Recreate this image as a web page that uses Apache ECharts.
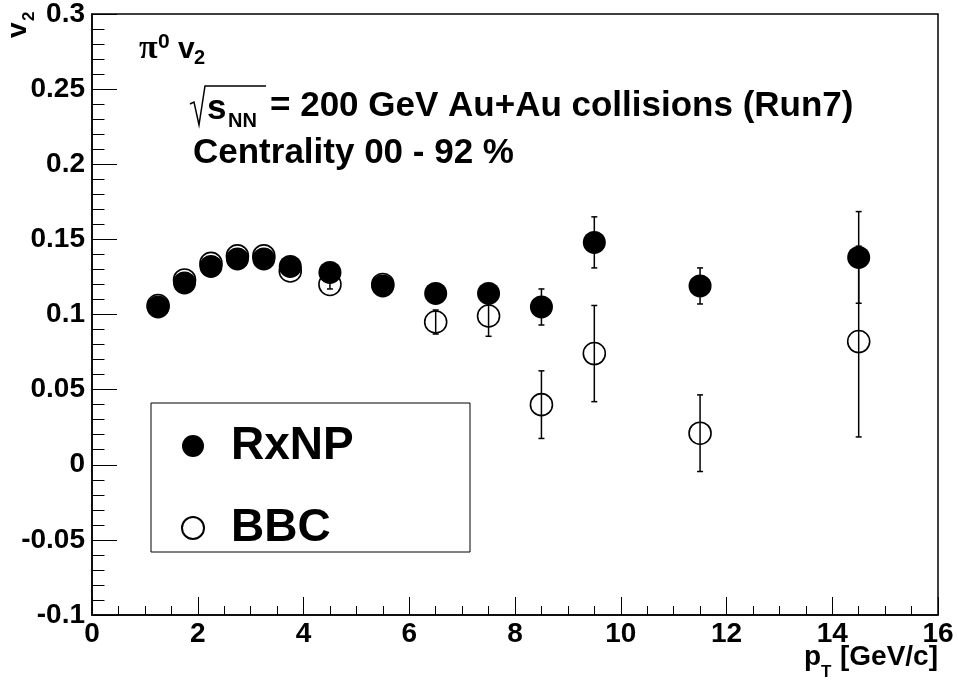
<!DOCTYPE html>
<html>
<head>
<meta charset="utf-8">
<script src="https://cdn.jsdelivr.net/npm/echarts@6/dist/echarts.min.js"></script>
<style>
  html, body { margin: 0; padding: 0; background: #fff; }
  #chart { width: 958px; height: 682px; }
</style>
</head>
<body>
<div id="chart"></div>
<script>
// ---- data ----
var pt      = [1.25, 1.75, 2.25, 2.75, 3.25, 3.75, 4.5, 5.5, 6.5, 7.5, 8.5, 9.5, 11.5, 14.5];
var rxnp    = [0.105, 0.121, 0.132, 0.137, 0.137, 0.132, 0.128, 0.119, 0.114, 0.114, 0.105, 0.148, 0.119, 0.138];
var rxnpErr = [0.002, 0.002, 0.002, 0.002, 0.002, 0.003, 0.003, 0.003, 0.004, 0.005, 0.012, 0.017, 0.012, 0.0305];
var bbc     = [0.106, 0.123, 0.134, 0.139, 0.139, 0.129, 0.120, 0.120, 0.095, 0.099, 0.040, 0.074, 0.021, 0.082];
var bbcErr  = [0.002, 0.002, 0.002, 0.002, 0.003, 0.003, 0.003, 0.004, 0.008, 0.0135, 0.0225, 0.032, 0.0255, 0.0635];
var xTickLabels = ['0', '2', '4', '6', '8', '10', '12', '14', '16'];
var yTickLabels = ['-0.1', '-0.05', '0', '0.05', '0.1', '0.15', '0.2', '0.25', '0.3'];
var seriesNames = ['RxNP', 'BBC'];

var FONT = 'Liberation Sans, Arial, Helvetica, sans-serif';
var X_MIN = 0, X_MAX = 16, X_INT = 2;
var Y_MIN = -0.1, Y_MAX = 0.3, Y_INT = 0.05;

function zip3(a, b, c) { return a.map(function (v, i) { return [v, b[i], c[i]]; }); }

function errRender(params, api) {
  var x = api.value(0), y = api.value(1), e = api.value(2);
  var top = api.coord([x, y + e]);
  var bot = api.coord([x, y - e]);
  var cap = 3;
  var st = { stroke: '#000', lineWidth: 1.5 };
  return {
    type: 'group',
    children: [
      { type: 'line', shape: { x1: top[0], y1: top[1], x2: bot[0], y2: bot[1] }, style: st },
      { type: 'line', shape: { x1: top[0] - cap, y1: top[1], x2: top[0] + cap, y2: top[1] }, style: st },
      { type: 'line', shape: { x1: bot[0] - cap, y1: bot[1], x2: bot[0] + cap, y2: bot[1] }, style: st }
    ]
  };
}

var chart = echarts.init(document.getElementById('chart'), null, { renderer: 'canvas' });

var option = {
  animation: false,
  backgroundColor: '#fff',
  grid: { left: 92, right: 20, top: 11, bottom: 67, show: true, borderColor: '#000', borderWidth: 1.5, backgroundColor: 'transparent' },
  xAxis: {
    type: 'value', min: X_MIN, max: X_MAX, interval: X_INT,
    axisLine: { show: true, onZero: false, lineStyle: { color: '#000', width: 1.5 } },
    axisTick: { show: true, inside: true, length: 18, lineStyle: { color: '#000', width: 1 } },
    minorTick: { show: true, splitNumber: 4, length: 9, lineStyle: { color: '#000', width: 1 } },
    splitLine: { show: false },
    axisLabel: {
      margin: 5, color: '#000', fontSize: 28, fontWeight: 'bold', fontFamily: FONT,
      showMinLabel: true, showMaxLabel: true,
      formatter: function (v) { return xTickLabels[Math.round((v - X_MIN) / X_INT)]; }
    }
  },
  yAxis: {
    type: 'value', min: Y_MIN, max: Y_MAX, interval: Y_INT,
    axisLine: { show: true, onZero: false, lineStyle: { color: '#000', width: 1.5 } },
    axisTick: { show: true, inside: true, length: 25, lineStyle: { color: '#000', width: 1 } },
    minorTick: { show: true, splitNumber: 5, length: 12.5, lineStyle: { color: '#000', width: 1 } },
    splitLine: { show: false },
    axisLabel: {
      margin: 7, color: '#000', fontSize: 28, fontWeight: 'bold', fontFamily: FONT,
      padding: [8, 0, 0, 0],
      showMinLabel: true, showMaxLabel: true,
      formatter: function (v) { return yTickLabels[Math.round((v - Y_MIN) / Y_INT)]; }
    }
  },
  legend: {
    data: seriesNames,
    orient: 'vertical',
    left: 181, top: 421,
    padding: 0,
    itemWidth: 22, itemHeight: 22,
    itemGap: 32,
    selectedMode: false,
    textStyle: { color: '#000', fontSize: 46, fontWeight: 'bold', fontFamily: FONT, lineHeight: 50, padding: [0, 0, 0, 22] }
  },
  series: [
    {
      name: 'BBC-err', type: 'custom', renderItem: errRender, z: 1,
      encode: { x: 0, y: 1 }, data: zip3(pt, bbc, bbcErr), silent: true
    },
    {
      name: 'BBC', type: 'scatter', symbol: 'circle', symbolSize: 22, z: 2,
      itemStyle: { color: 'rgba(0,0,0,0)', borderColor: '#000', borderWidth: 1.6, opacity: 1 },
      data: pt.map(function (x, i) { return [x, bbc[i]]; })
    },
    {
      name: 'RxNP-err', type: 'custom', renderItem: errRender, z: 3,
      encode: { x: 0, y: 1 }, data: zip3(pt, rxnp, rxnpErr), silent: true
    },
    {
      name: 'RxNP', type: 'scatter', symbol: 'circle', symbolSize: 23, z: 4,
      itemStyle: { color: '#000', borderColor: '#000', borderWidth: 0, opacity: 1 },
      data: pt.map(function (x, i) { return [x, rxnp[i]]; })
    }
  ],
  graphic: [
    // legend box
    { type: 'rect', shape: { x: 151, y: 403, width: 319, height: 149 }, style: { fill: 'none', stroke: '#000', lineWidth: 1 }, z: 0 },
    // pi0 v2
    { type: 'text', x: 139, y: 49, style: { text: '\u03c0', fontSize: 34, fontWeight: 'bold', fontFamily: 'Liberation Serif, DejaVu Serif, serif', fill: '#000', verticalAlign: 'middle' } },
    { type: 'text', x: 158, y: 42, style: { text: '0', fontSize: 21, fontWeight: 'bold', fontFamily: FONT, fill: '#000', verticalAlign: 'middle' } },
    { type: 'text', x: 178, y: 50, style: { text: 'v', fontSize: 30, fontWeight: 'bold', fontFamily: FONT, fill: '#000', verticalAlign: 'middle' } },
    { type: 'text', x: 194, y: 58, style: { text: '2', fontSize: 20, fontWeight: 'bold', fontFamily: FONT, fill: '#000', verticalAlign: 'middle' } },
    // sqrt(s_NN) = 200 GeV ...
    { type: 'polyline', shape: { points: [[190, 104], [194, 102], [199, 125], [205, 86], [266, 86]] }, style: { fill: 'none', stroke: '#000', lineWidth: 1.5 } },
    { type: 'text', x: 207, y: 109, style: { text: 's', fontSize: 35, fontWeight: 'bold', fontFamily: FONT, fill: '#000', verticalAlign: 'middle' } },
    { type: 'text', x: 228, y: 121, style: { text: 'NN', fontSize: 20, fontWeight: 'bold', fontFamily: FONT, fill: '#000', verticalAlign: 'middle' } },
    { type: 'text', x: 270, y: 106, style: { text: '= 200 GeV Au+Au collisions (Run7)', fontSize: 35, fontWeight: 'bold', fontFamily: FONT, fill: '#000', verticalAlign: 'middle' } },
    { type: 'text', x: 193, y: 153, style: { text: 'Centrality 00 - 92 %', fontSize: 35, fontWeight: 'bold', fontFamily: FONT, fill: '#000', verticalAlign: 'middle' } },
    // x axis title p_T [GeV/c]
    { type: 'text', x: 804, y: 657, style: { text: 'p', fontSize: 28, fontWeight: 'bold', fontFamily: FONT, fill: '#000', verticalAlign: 'middle' } },
    { type: 'text', x: 821, y: 672, style: { text: 'T', fontSize: 17, fontWeight: 'bold', fontFamily: FONT, fill: '#000', verticalAlign: 'middle' } },
    { type: 'text', x: 938, y: 657, style: { text: '[GeV/c]', fontSize: 28, fontWeight: 'bold', fontFamily: FONT, fill: '#000', align: 'right', verticalAlign: 'middle' } },
    // y axis title v_2 (rotated, reads bottom-to-top)
    { type: 'text', x: 18, y: 38, rotation: Math.PI / 2, style: { text: 'v', fontSize: 28, fontWeight: 'bold', fontFamily: FONT, fill: '#000', align: 'left', verticalAlign: 'middle' } },
    { type: 'text', x: 29, y: 21, rotation: Math.PI / 2, style: { text: '2', fontSize: 17, fontWeight: 'bold', fontFamily: FONT, fill: '#000', align: 'left', verticalAlign: 'middle' } }
  ]
};

chart.setOption(option);
</script>
</body>
</html>
